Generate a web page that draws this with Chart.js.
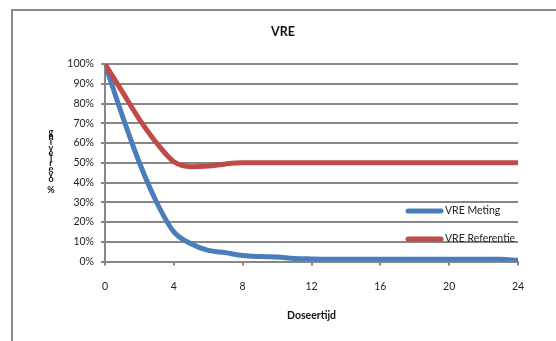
<!DOCTYPE html>
<html>
<head>
<meta charset="utf-8">
<script src="https://cdn.jsdelivr.net/npm/chart.js@4.4.0/dist/chart.umd.min.js"></script>
<style>
  html, body { margin: 0; padding: 0; background: #fff; }
  canvas { display: block; }
</style>
</head>
<body>
<canvas id="vre" width="556" height="341"></canvas>
<script>
// Doseertijd (x) and survival percentages per series
const doseertijd = [0, 1, 2, 3, 4, 5, 6, 7, 8, 9, 10, 11, 12, 13, 14, 15, 16, 17, 18, 19, 20, 21, 22, 23, 24];
const vreMeting = [100, 74, 50, 30, 15, 9, 5.6, 4.5, 3, 2.5, 2.3, 1.5, 1.3, 1.2, 1.2, 1.2, 1.2, 1.2, 1.2, 1.2, 1.2, 1.2, 1.2, 1.1, 0.6];
const vreReferentie = [100, 86, 72, 60, 50.5, 48, 48.3, 49.4, 50, 50, 50, 50, 50, 50, 50, 50, 50, 50, 50, 50, 50, 50, 50, 50, 50];
const xTicks = [0, 4, 8, 12, 16, 20, 24];
const yTicks = [0, 10, 20, 30, 40, 50, 60, 70, 80, 90, 100];

const FONT = 'Lato, "Open Sans", sans-serif';
const GRID = '#878787';

function toPoints(ys) {
  return doseertijd.map((x, i) => ({x: x, y: ys[i]}));
}

// frame, stacked y-axis caption and the in-plot legend
const extras = {
  id: 'extras',
  beforeDraw(chart) {
    const ctx = chart.ctx;
    ctx.save();
    ctx.fillStyle = '#fff';
    ctx.fillRect(0, 0, chart.width, chart.height);
    ctx.strokeStyle = '#8a8a8a';
    ctx.lineWidth = 2;
    ctx.beginPath();
    ctx.moveTo(12, chart.height);
    ctx.lineTo(12, 10);
    ctx.lineTo(chart.width, 10);
    ctx.stroke();
    ctx.restore();
  },
  afterDraw(chart) {
    const ctx = chart.ctx;
    ctx.save();
    // y caption, one letter above the other
    ctx.font = 'bold 9px ' + FONT;
    ctx.fillStyle = '#111';
    ctx.textAlign = 'center';
    ctx.textBaseline = 'middle';
    const caption = '% overleving';
    let y = 190;
    for (const ch of caption) {
      if (ch !== ' ') ctx.fillText(ch, 51, y);
      y -= 5.3;
    }
    // legend
    ctx.font = '10.5px ' + FONT;
    ctx.textAlign = 'left';
    ctx.lineCap = 'round';
    const rows = [211, 239];
    chart.data.datasets.forEach((ds, i) => {
      const ly = rows[i];
      ctx.strokeStyle = ds.borderColor;
      ctx.lineWidth = 5;
      ctx.beginPath();
      ctx.moveTo(408, ly);
      ctx.lineTo(441, ly);
      ctx.stroke();
      ctx.fillStyle = '#222';
      ctx.fillText(ds.label, 445, ly);
    });
    ctx.restore();
  }
};

new Chart(document.getElementById('vre'), {
  type: 'line',
  data: {
    datasets: [
      {
        label: 'VRE Meting',
        data: toPoints(vreMeting),
        borderColor: '#4a7ebb',
        borderWidth: 5,
        pointRadius: 0,
        cubicInterpolationMode: 'monotone',
        borderCapStyle: 'round',
        order: 2
      },
      {
        label: 'VRE Referentie',
        data: toPoints(vreReferentie),
        borderColor: '#be4b48',
        borderWidth: 5,
        pointRadius: 0,
        cubicInterpolationMode: 'monotone',
        borderCapStyle: 'round',
        order: 1
      }
    ]
  },
  options: {
    responsive: false,
    animation: false,
    layout: {padding: {left: 10, top: 24, right: 0, bottom: 0}},
    plugins: {
      legend: {display: false},
      tooltip: {enabled: false},
      title: {
        display: true,
        text: 'VRE',
        color: '#111',
        font: {family: FONT, size: 12.5, weight: 'bold'},
        padding: {top: 0, bottom: 25}
      }
    },
    scales: {
      x: {
        type: 'linear',
        min: 0,
        max: 24,
        afterBuildTicks: s => { s.ticks = xTicks.map(v => ({value: v})); },
        afterFit: s => { s.height = 79.5; },
        grid: {drawOnChartArea: false, drawTicks: true, tickLength: 4, color: GRID, lineWidth: 2},
        border: {color: GRID, width: 2},
        ticks: {color: '#222', font: {family: FONT, size: 10.5}, padding: 15, maxRotation: 0},
        title: {
          display: true,
          text: 'Doseertijd',
          color: '#111',
          font: {family: FONT, size: 10.5, weight: 'bold'},
          padding: {top: 0, bottom: 19}
        }
      },
      y: {
        min: 0,
        max: 100,
        afterBuildTicks: s => { s.ticks = yTicks.map(v => ({value: v})); },
        afterFit: s => { s.width = 95; },
        grid: {color: GRID, lineWidth: 2, tickLength: 4},
        border: {color: GRID, width: 2},
        ticks: {
          color: '#222',
          font: {family: FONT, size: 10.5},
          padding: 7,
          callback: v => v + '%'
        }
      },
      y2: {
        position: 'right',
        display: true,
        grid: {display: false},
        border: {display: false},
        ticks: {display: false},
        afterFit: s => { s.width = 38; }
      }
    }
  },
  plugins: [extras]
});
</script>
</body>
</html>
